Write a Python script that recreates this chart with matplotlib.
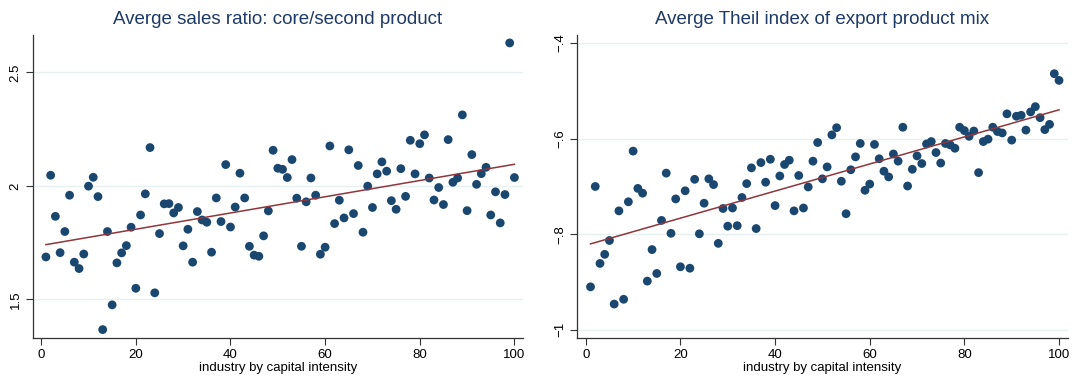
import numpy as np
import matplotlib
matplotlib.use("Agg")
from matplotlib import pyplot as plt

plt.rcParams['font.family'] = ['Liberation Sans', 'DejaVu Sans']

industry = np.arange(1, 101)

sales_ratio = [
    1.687, 2.047, 1.866, 1.706, 1.799, 1.959, 1.664, 1.636, 1.700, 1.999,
    2.038, 1.953, 1.367, 1.799, 1.476, 1.661, 1.705, 1.737, 1.818, 1.549,
    1.872, 1.965, 2.169, 1.529, 1.790, 1.921, 1.922, 1.881, 1.905, 1.736,
    1.809, 1.664, 1.887, 1.850, 1.840, 1.708, 1.947, 1.843, 2.094, 1.819,
    1.907, 2.056, 1.947, 1.734, 1.695, 1.690, 1.780, 1.890, 2.157, 2.078,
    2.073, 2.037, 2.116, 1.946, 1.734, 1.930, 2.035, 1.959, 1.699, 1.730,
    2.176, 1.834, 1.937, 1.859, 2.159, 1.878, 2.090, 1.796, 1.999, 1.905,
    2.053, 2.106, 2.065, 1.935, 1.897, 2.076, 1.954, 2.201, 2.053, 2.186,
    2.225, 2.035, 1.938, 1.993, 1.918, 2.204, 2.016, 2.035, 2.313, 1.891,
    2.138, 2.007, 2.054, 2.082, 1.872, 1.974, 1.837, 1.962, 2.630, 2.037,
]

theil = [
    -0.910, -0.700, -0.861, -0.842, -0.813, -0.946, -0.751, -0.936, -0.732, -0.626,
    -0.704, -0.714, -0.898, -0.832, -0.882, -0.771, -0.672, -0.798, -0.726, -0.868,
    -0.709, -0.871, -0.685, -0.799, -0.735, -0.684, -0.696, -0.819, -0.746, -0.783,
    -0.745, -0.782, -0.723, -0.694, -0.661, -0.788, -0.650, -0.691, -0.643, -0.740,
    -0.678, -0.654, -0.645, -0.751, -0.677, -0.745, -0.701, -0.647, -0.608, -0.684,
    -0.659, -0.592, -0.577, -0.689, -0.757, -0.665, -0.638, -0.610, -0.708, -0.695,
    -0.612, -0.642, -0.668, -0.680, -0.632, -0.647, -0.576, -0.699, -0.664, -0.636,
    -0.652, -0.611, -0.606, -0.629, -0.651, -0.610, -0.613, -0.620, -0.576, -0.583,
    -0.595, -0.584, -0.671, -0.606, -0.601, -0.576, -0.585, -0.588, -0.548, -0.603,
    -0.553, -0.551, -0.582, -0.544, -0.533, -0.556, -0.581, -0.570, -0.464, -0.478,
]

titles = ['Averge sales ratio: core/second product', 'Averge Theil index of export product mix']
series = [sales_ratio, theil]
yticks = [[1.5, 2, 2.5], [-1, -0.8, -0.6, -0.4]]
ytick_labels = [['1.5', '2', '2.5'], ['\u22121', '\u2212.8', '\u2212.6', '\u2212.4']]
ylims = [(1.330, 2.665), (-1.017, -0.383)]
xticks = [0, 20, 40, 60, 80, 100]

navy = '#1a476f'
title_col = '#1e3a66'
maroon = '#90353b'

fig = plt.figure(figsize=(10.78, 3.79), dpi=100)
lefts = [0.0303, 0.5355]

for i in range(2):
    ax = fig.add_axes([lefts[i], 0.1082, 0.4548, 0.7995])
    y = np.array(series[i])
    for t in yticks[i]:
        ax.axhline(t, color='#e6f0f1', lw=1.0, zorder=0)
    ax.scatter(industry, y, s=40, color=navy, edgecolors='none', zorder=3)
    # linear fit line
    b, a = np.polyfit(industry, y, 1)
    xs = np.array([industry[0], industry[-1]])
    ax.plot(xs, a + b * xs, color=maroon, lw=1.1, zorder=4)
    ax.set_xlim(-1.8, 101.8)
    ax.set_ylim(*ylims[i])
    ax.set_xticks(xticks)
    ax.set_yticks(yticks[i])
    ax.set_yticklabels(ytick_labels[i], rotation=90, va='center')
    ax.tick_params(axis='both', labelsize=9.5, length=5, width=0.8, color='#333333', pad=3)
    for s in ['top', 'right']:
        ax.spines[s].set_visible(False)
    for s in ['left', 'bottom']:
        ax.spines[s].set_color('#333333')
        ax.spines[s].set_linewidth(0.9)
    ax.set_xlabel('industry by capital intensity', fontsize=9.5, labelpad=1)
    ax.set_title(titles[i], fontsize=13.5, color=title_col, pad=8)

plt.savefig('out.png', dpi=100)
